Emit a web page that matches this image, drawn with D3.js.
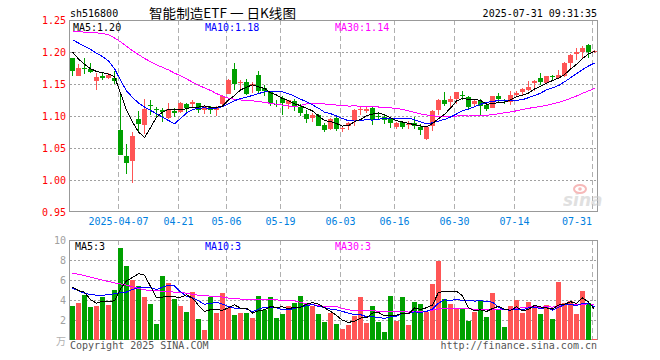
<!DOCTYPE html>
<html><head><meta charset="utf-8">
<script src="https://cdn.jsdelivr.net/npm/d3@7"></script>
<style>body{margin:0;background:#fff}svg{display:block}</style>
</head><body>
<svg id="c" width="660" height="360"></svg>
<script>
const dates = ["2025-03-25","2025-03-26","2025-03-27","2025-03-28","2025-03-31",
"2025-04-01","2025-04-02","2025-04-03","2025-04-07","2025-04-08","2025-04-09","2025-04-10","2025-04-11","2025-04-14","2025-04-15","2025-04-16","2025-04-17","2025-04-18","2025-04-21","2025-04-22","2025-04-23","2025-04-24","2025-04-25","2025-04-28","2025-04-29","2025-04-30",
"2025-05-06","2025-05-07","2025-05-08","2025-05-09","2025-05-12","2025-05-13","2025-05-14","2025-05-15","2025-05-16","2025-05-19","2025-05-20","2025-05-21","2025-05-22","2025-05-23","2025-05-26","2025-05-27","2025-05-28","2025-05-29","2025-05-30",
"2025-06-03","2025-06-04","2025-06-05","2025-06-06","2025-06-09","2025-06-10","2025-06-11","2025-06-12","2025-06-13","2025-06-16","2025-06-17","2025-06-18","2025-06-19","2025-06-20","2025-06-23","2025-06-24","2025-06-25","2025-06-26","2025-06-27","2025-06-30",
"2025-07-01","2025-07-02","2025-07-03","2025-07-04","2025-07-07","2025-07-08","2025-07-09","2025-07-10","2025-07-11","2025-07-14","2025-07-15","2025-07-16","2025-07-17","2025-07-18","2025-07-21","2025-07-22","2025-07-23","2025-07-24","2025-07-25","2025-07-28","2025-07-29","2025-07-30","2025-07-31"];

const open  = [1.190,1.163,1.175,1.173,1.154,1.162,1.159,1.160,1.0775,1.038,
1.029,1.0953,1.0854,1.117,1.111,1.110,1.0963,1.108,1.1062,1.119,
1.1187,1.121,1.110,1.1135,1.1094,1.1182,1.135,1.174,1.152,1.1536,
1.148,1.1646,1.1443,1.138,1.119,1.128,1.119,1.124,1.1146,1.1036,
1.0963,1.101,1.0854,1.080,1.097,1.080,1.0843,1.0927,1.109,1.1083,
1.113,1.100,1.099,1.0953,1.0833,1.0906,1.0854,1.089,1.0823,1.0646,
1.0838,1.1094,1.1255,1.1213,1.126,1.1328,1.1297,1.1187,1.124,1.1172,
1.113,1.1318,1.1255,1.1224,1.1323,1.1375,1.1406,1.151,1.160,1.152,
1.163,1.1588,1.163,1.1828,1.1974,1.200,1.2115,1.2005];
const high  = [1.191,1.182,1.191,1.183,1.167,1.169,1.167,1.170,1.138,1.0567,
1.0755,1.108,1.126,1.125,1.1135,1.112,1.1208,1.112,1.1218,1.121,
1.1255,1.121,1.1177,1.115,1.116,1.1333,1.158,1.1833,1.1557,1.158,
1.1526,1.1708,1.149,1.138,1.1245,1.132,1.1255,1.1265,1.118,1.110,
1.105,1.103,1.089,1.0974,1.1005,1.085,1.091,1.111,1.114,1.114,
1.114,1.1067,1.1036,1.0984,1.090,1.0917,1.0927,1.098,1.087,1.084,
1.109,1.126,1.138,1.131,1.138,1.1385,1.1307,1.1245,1.127,1.120,
1.132,1.1364,1.127,1.1396,1.1396,1.1437,1.154,1.1557,1.1667,1.163,
1.1646,1.1724,1.1844,1.1964,1.206,1.209,1.213,1.2026];
const low   = [1.163,1.162,1.166,1.167,1.141,1.156,1.158,1.150,1.039,1.0098,
0.9953,1.073,1.072,1.101,1.098,1.090,1.0955,1.098,1.1052,1.107,
1.113,1.105,1.1026,1.1026,1.1005,1.1172,1.134,1.140,1.140,1.133,
1.136,1.136,1.1307,1.116,1.114,1.102,1.111,1.108,1.1005,1.0896,
1.090,1.084,1.075,1.0786,1.076,1.0755,1.078,1.0843,1.1015,1.105,
1.0854,1.093,1.088,1.0807,1.080,1.079,1.080,1.080,1.071,1.063,
1.076,1.102,1.116,1.113,1.119,1.125,1.1114,1.1146,1.100,1.108,
1.112,1.1224,1.118,1.1177,1.1297,1.1307,1.139,1.1385,1.148,1.1516,
1.1557,1.1578,1.161,1.173,1.188,1.189,1.190,1.198];
const close = [1.170,1.175,1.173,1.169,1.161,1.160,1.164,1.155,1.0395,1.0265,
1.068,1.087,1.1104,1.1155,1.110,1.1067,1.1109,1.104,1.1208,1.113,
1.1213,1.110,1.1146,1.1094,1.1125,1.1312,1.1568,1.1495,1.1536,1.134,
1.150,1.1396,1.139,1.119,1.117,1.121,1.1245,1.114,1.1047,1.0958,
1.101,1.085,1.0786,1.0958,1.080,1.082,1.0885,1.110,1.111,1.1114,
1.0932,1.0985,1.0942,1.0885,1.0896,1.0823,1.0875,1.085,1.0776,1.0828,
1.1083,1.1255,1.119,1.126,1.138,1.1312,1.1135,1.1234,1.115,1.1104,
1.1318,1.1265,1.124,1.1328,1.1364,1.1416,1.1448,1.1552,1.153,1.162,
1.162,1.1635,1.1833,1.1953,1.200,1.2068,1.200,1.202];
const volume = [3.43,3.73,4.53,3.33,3.43,4.33,3.53,5.03,9.23,7.43,
6.03,5.43,4.33,3.63,1.63,6.43,5.73,4.13,3.43,2.83,
4.83,2.13,1.03,4.33,2.73,4.73,3.23,2.53,2.73,2.73,
2.23,4.43,3.03,4.33,2.23,2.63,3.43,3.73,4.43,3.73,
3.43,2.63,1.83,2.73,1.63,1.07,1.53,2.43,4.33,1.73,
3.43,1.83,0.83,4.43,1.93,4.33,1.53,3.83,3.63,2.83,
5.63,7.93,4.13,3.63,3.13,3.23,1.93,2.83,3.93,2.33,
4.73,3.03,1.33,3.43,4.03,2.73,3.83,3.33,2.63,3.53,
2.13,5.83,3.73,3.93,2.63,4.93,3.73,0.13];

// moving-average values before a full window exists
const ma5Head  = [1.200,1.189,1.181,1.174];
const ma10Head = [1.219,1.214,1.209,1.204,1.198,1.193,1.186,1.174,1.156];
const ma30Head = [1.232,1.232,1.231,1.231,1.230,1.229,1.227,1.222,1.216,1.209,1.202,1.196,1.190,1.185,1.180,1.176,1.172,1.167,1.163,1.158,1.153,1.148,1.144,1.140,1.135,1.131,1.128,1.126,1.125];
const vma5Head  = [5.28,4.95,4.78,4.02];
const vma10Head = [5.18,4.92,4.68,4.55,4.48,4.48,4.52,4.62,4.72];
const vma30Head = [6.65,6.58,6.45,6.28,6.15,5.98,5.85,5.71,5.61,5.48,5.32,5.15,5.02,4.92,4.92,4.88,4.85,4.78,4.75,4.68,4.58,4.48,4.42,4.39,4.35,4.29,4.19,4.15,4.09];

const priceTicks = [1.25,1.20,1.15,1.10,1.05,1.00,0.95];
const volTicks = [10,8,6,4,2];
const xTickDates = ["2025-04-07","2025-04-21","2025-05-06","2025-05-19","2025-06-03","2025-06-16","2025-06-30","2025-07-14","2025-07-31"];
const xTickLabels = ["2025-04-07","04-21","05-06","05-19","06-03","06-16","06-30","07-14","07-31"];

const code = "sh516800", title = "智能制造ETF 一 日K线图", stamp = "2025-07-31 09:31:35";

function movingAvg(arr, n, head){
  return arr.map((v,i)=> i < n-1 ? head[i] : d3.mean(arr.slice(i-n+1,i+1)));
}
const ma5 = movingAvg(close,5,ma5Head), ma10 = movingAvg(close,10,ma10Head), ma30 = movingAvg(close,30,ma30Head);
const vma5 = movingAvg(volume,5,vma5Head), vma10 = movingAvg(volume,10,vma10Head), vma30 = movingAvg(volume,30,vma30Head);

const RED="#ff5555", GREEN="#00a000", GRID="#a0a0a0", BORDER="#999";
const MONO="'DejaVu Sans Mono', monospace";
const svg = d3.select("#c");
const L=70, R=598, PT=20, PB=212, VT=240, VB=340;
const x = d3.scaleBand().domain(d3.range(dates.length)).range([L,R]);
const bw = x.bandwidth();
const y = d3.scaleLinear().domain([0.95,1.25]).range([PB,PT]);
const yv = d3.scaleLinear().domain([0,10]).range([VB,VT]);
const up = i => close[i] >= open[i];

// header
svg.append("text").attr("x",70).attr("y",17).attr("font-family",MONO).attr("font-size",10).attr("fill","#000").text(code);
svg.append("text").attr("x",149).attr("y",18).attr("font-family","'Noto Sans CJK SC', sans-serif").attr("font-size",13)
  .attr("textLength",147).attr("lengthAdjust","spacingAndGlyphs").attr("fill","#000").text(title);
svg.append("text").attr("x",597).attr("y",17).attr("text-anchor","end").attr("font-family",MONO).attr("font-size",10).attr("fill","#000").text(stamp);

// grids
const tickIdx = xTickDates.map(d=>dates.indexOf(d));
function panelGrid(top,bottom){
  svg.append("g").selectAll("line").data(tickIdx).join("line")
    .attr("x1",i=>x(i)+0.5).attr("x2",i=>x(i)+0.5).attr("y1",top).attr("y2",bottom)
    .attr("stroke","#b0b0b0").attr("stroke-dasharray","5,3").attr("shape-rendering","crispEdges");
}
panelGrid(PT,PB); panelGrid(VT,VB);
svg.append("g").selectAll("line").data(priceTicks.slice(1,-1)).join("line")
  .attr("x1",L).attr("x2",R).attr("y1",d=>Math.round(y(d))+0.5).attr("y2",d=>Math.round(y(d))+0.5)
  .attr("stroke",GRID).attr("stroke-dasharray","2,2").attr("shape-rendering","crispEdges");
svg.append("g").selectAll("line").data(volTicks.slice(1)).join("line")
  .attr("x1",L).attr("x2",R).attr("y1",d=>Math.round(yv(d))+0.5).attr("y2",d=>Math.round(yv(d))+0.5)
  .attr("stroke",GRID).attr("stroke-dasharray","2,2").attr("shape-rendering","crispEdges");

// borders
[[PT,PB],[VT,VB]].forEach(([t,b])=>{
  svg.append("rect").attr("x",L-0.5).attr("y",t+0.5).attr("width",R-L).attr("height",b-t-1)
   .attr("fill","none").attr("stroke",BORDER).attr("shape-rendering","crispEdges");
});

// y labels
svg.append("g").selectAll("text").data(priceTicks).join("text")
  .attr("x",66).attr("y",d=>y(d)+3.5).attr("text-anchor","end").attr("font-family",MONO).attr("font-size",10)
  .attr("fill","#f00").text(d=>d.toFixed(2));
svg.append("g").selectAll("text").data(volTicks).join("text")
  .attr("x",66).attr("y",d=>yv(d)+3.5).attr("text-anchor","end").attr("font-family",MONO).attr("font-size",10)
  .attr("fill","#a0a0a0").text(d=>d);
svg.append("text").attr("x",66).attr("y",345).attr("text-anchor","end").attr("font-family","'Noto Sans CJK SC', sans-serif").attr("font-size",10)
  .attr("fill","#b0b0b0").text("万");

// x labels
svg.append("g").selectAll("text").data(tickIdx).join("text")
  .attr("x",(d,i)=>{ const c=x(d)+0.5; const w=xTickLabels[i].length*6; return c+w/2>R ? R-6 : c; })
  .attr("text-anchor",(d,i)=>{ const c=x(d)+0.5; const w=xTickLabels[i].length*6; return c+w/2>R ? "end" : "middle"; })
  .attr("y",225).attr("font-family",MONO).attr("font-size",10).attr("fill","#0080e0")
  .text((d,i)=>xTickLabels[i]);

// watermark
const wm = svg.append("g").attr("opacity",0.55);
wm.append("text").attr("x",563).attr("y",206).attr("font-family","'DejaVu Sans', sans-serif").attr("font-size",17)
  .attr("font-weight","bold").attr("font-style","italic").attr("fill","#c8c8c8").text("sina");
wm.append("ellipse").attr("cx",580).attr("cy",189).attr("rx",6).attr("ry",4).attr("fill","none").attr("stroke","#f08080").attr("stroke-width",2);
wm.append("circle").attr("cx",580).attr("cy",189).attr("r",1.8).attr("fill","#f08080");

// candles
const cg = svg.append("g");
cg.selectAll("line").data(d3.range(dates.length)).join("line")
  .attr("x1",i=>x(i)+2.5).attr("x2",i=>x(i)+2.5).attr("y1",i=>y(high[i])).attr("y2",i=>y(low[i]))
  .attr("stroke",i=>up(i)?RED:GREEN).attr("stroke-width",1).attr("shape-rendering","crispEdges");
cg.selectAll("rect").data(d3.range(dates.length)).join("rect")
  .attr("x",i=>x(i)).attr("width",bw-1)
  .attr("y",i=>Math.round(y(Math.max(open[i],close[i]))))
  .attr("height",i=>Math.max(1,Math.round(y(Math.min(open[i],close[i])))-Math.round(y(Math.max(open[i],close[i])))))
  .attr("fill",i=>up(i)?RED:GREEN).attr("shape-rendering","crispEdges");

// volume bars
svg.append("g").selectAll("rect").data(d3.range(dates.length)).join("rect")
  .attr("x",i=>x(i)).attr("width",bw-1).attr("y",i=>Math.round(yv(volume[i]))).attr("height",i=>VB-Math.round(yv(volume[i])))
  .attr("fill",i=>up(i)?RED:GREEN).attr("shape-rendering","crispEdges");

// MA lines
svg.append("clipPath").attr("id","pc").append("rect").attr("x",L).attr("y",PT+1).attr("width",R-L).attr("height",PB-PT-1);
const clipG = svg.append("g").attr("clip-path","url(#pc)");
[[ma30,"#ff00ff"],[ma10,"#0000ff"],[ma5,"#000"]].forEach(([d,c])=>{
  clipG.append("path").datum(d).attr("fill","none").attr("stroke",c).attr("stroke-width",1).attr("shape-rendering","crispEdges")
    .attr("d", d3.line().x((v,i)=>x(i)+2.5).y(v=>y(v)));
});
[[vma30,"#ff00ff"],[vma10,"#0000ff"],[vma5,"#000"]].forEach(([d,c])=>{
  svg.append("path").datum(d).attr("fill","none").attr("stroke",c).attr("stroke-width",1).attr("shape-rendering","crispEdges")
    .attr("d", d3.line().x((v,i)=>x(i)+2.5).y(v=>yv(v)));
});

// MA legends
const fmt2 = d3.format(".2f");
const last = a => a[a.length-1];
[["MA5:"+fmt2(last(ma5)),"#000",73],["MA10:"+fmt2(last(ma10)),"#0000ff",205],["MA30:"+fmt2(last(ma30)),"#ff00ff",335]]
  .forEach(([t,c,px])=>svg.append("text").attr("x",px).attr("y",31).attr("font-family",MONO).attr("font-size",10).attr("fill",c).text(t));
[["MA5:"+Math.round(last(vma5)),"#000",75],["MA10:"+Math.round(last(vma10)),"#0000ff",205],["MA30:"+Math.round(last(vma30)),"#ff00ff",335]]
  .forEach(([t,c,px])=>svg.append("text").attr("x",px).attr("y",250).attr("font-family",MONO).attr("font-size",10).attr("fill",c).text(t));

// footer
svg.append("text").attr("x",70).attr("y",349).attr("font-family",MONO).attr("font-size",10).attr("fill","#555").text("Copyright 2025 SINA.COM");
svg.append("text").attr("x",597).attr("y",349).attr("text-anchor","end").attr("font-family",MONO).attr("font-size",10).attr("fill","#555").text("http://finance.sina.com.cn");
</script>
</body></html>
